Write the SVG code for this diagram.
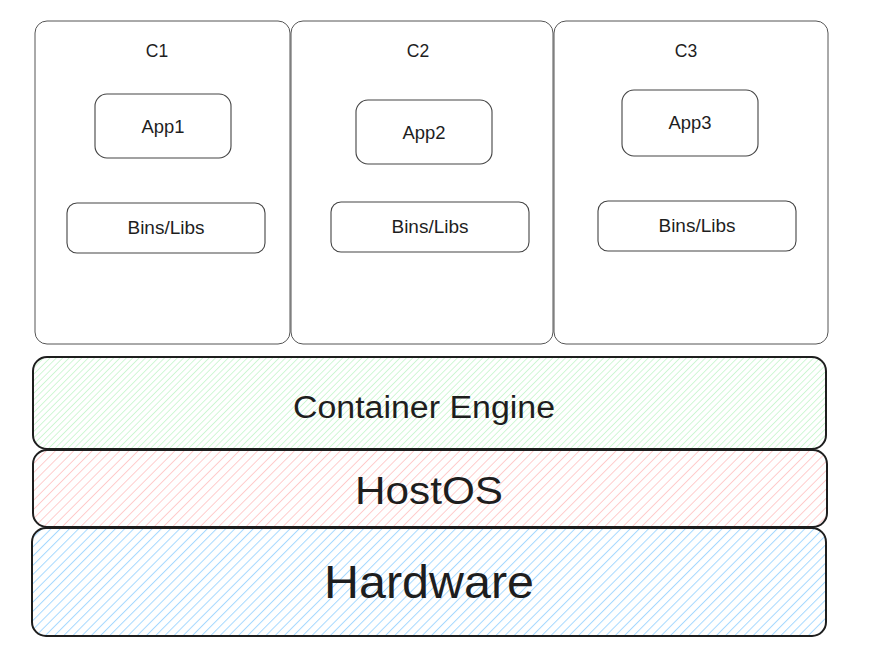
<svg xmlns="http://www.w3.org/2000/svg" width="881" height="671" viewBox="0 0 881 671">
<defs>
<pattern id="hg" patternUnits="userSpaceOnUse" width="4.5" height="4.5" patternTransform="rotate(45)"><line x1="0" y1="0" x2="0" y2="4.5" stroke="#b2f2bb" stroke-width="1.2"/></pattern>
<pattern id="hr" patternUnits="userSpaceOnUse" width="6.5" height="6.5" patternTransform="rotate(45)"><line x1="0" y1="0" x2="0" y2="6.5" stroke="#ffc9c9" stroke-width="1.8"/></pattern>
<pattern id="hb" patternUnits="userSpaceOnUse" width="6.5" height="6.5" patternTransform="rotate(45)"><line x1="0" y1="0" x2="0" y2="6.5" stroke="#a5d8ff" stroke-width="2"/></pattern>
</defs>
<style>
.c{fill:#fff;stroke:#555;stroke-width:1}
.b{fill:#fff;stroke:#444;stroke-width:1.1}
.L{stroke:#1e1e1e;stroke-width:2}
text{font-family:"Liberation Sans",Arial,sans-serif;fill:#1e1e1e;text-anchor:middle;dominant-baseline:central}
.s{font-size:17.5px}
</style>
<g id="c1"><rect class="c" x="35" y="21" width="255" height="323" rx="12"/><text class="s" x="157" y="51">C1</text></g>
<g id="c2"><rect class="c" x="291" y="21" width="262" height="323" rx="12"/><text class="s" x="418" y="51">C2</text></g>
<g id="c3"><rect class="c" x="554" y="21" width="274" height="323" rx="12"/><text class="s" x="686" y="51">C3</text></g>
<g id="app1"><rect class="b" x="95" y="94" width="136" height="64" rx="12"/><text class="s" x="163" y="127" textLength="43" lengthAdjust="spacingAndGlyphs">App1</text></g>
<g id="app2"><rect class="b" x="356" y="100" width="136" height="64" rx="12"/><text class="s" x="424" y="133" textLength="43" lengthAdjust="spacingAndGlyphs">App2</text></g>
<g id="app3"><rect class="b" x="622" y="90" width="136" height="66" rx="12"/><text class="s" x="690" y="123" textLength="43" lengthAdjust="spacingAndGlyphs">App3</text></g>
<g id="bins1"><rect class="b" x="67" y="203" width="198" height="50" rx="10"/><text class="s" x="166" y="228" textLength="77" lengthAdjust="spacingAndGlyphs">Bins/Libs</text></g>
<g id="bins2"><rect class="b" x="331" y="202" width="198" height="50" rx="10"/><text class="s" x="430" y="227" textLength="77" lengthAdjust="spacingAndGlyphs">Bins/Libs</text></g>
<g id="bins3"><rect class="b" x="598" y="201" width="198" height="50" rx="10"/><text class="s" x="697" y="226" textLength="77" lengthAdjust="spacingAndGlyphs">Bins/Libs</text></g>
<g id="engine"><rect class="L" fill="url(#hg)" x="33" y="357" width="793" height="92" rx="14"/><text x="424" y="407" font-size="31" textLength="262" lengthAdjust="spacingAndGlyphs">Container Engine</text></g>
<g id="hostos"><rect class="L" fill="url(#hr)" x="33" y="450" width="794" height="77" rx="14"/><text x="429" y="490" font-size="39" textLength="148" lengthAdjust="spacingAndGlyphs">HostOS</text></g>
<g id="hardware"><rect class="L" fill="url(#hb)" x="32" y="528" width="794" height="108" rx="14"/><text x="429" y="582" font-size="46" textLength="210" lengthAdjust="spacingAndGlyphs">Hardware</text></g>
<g id="connectors"></g>
</svg>
